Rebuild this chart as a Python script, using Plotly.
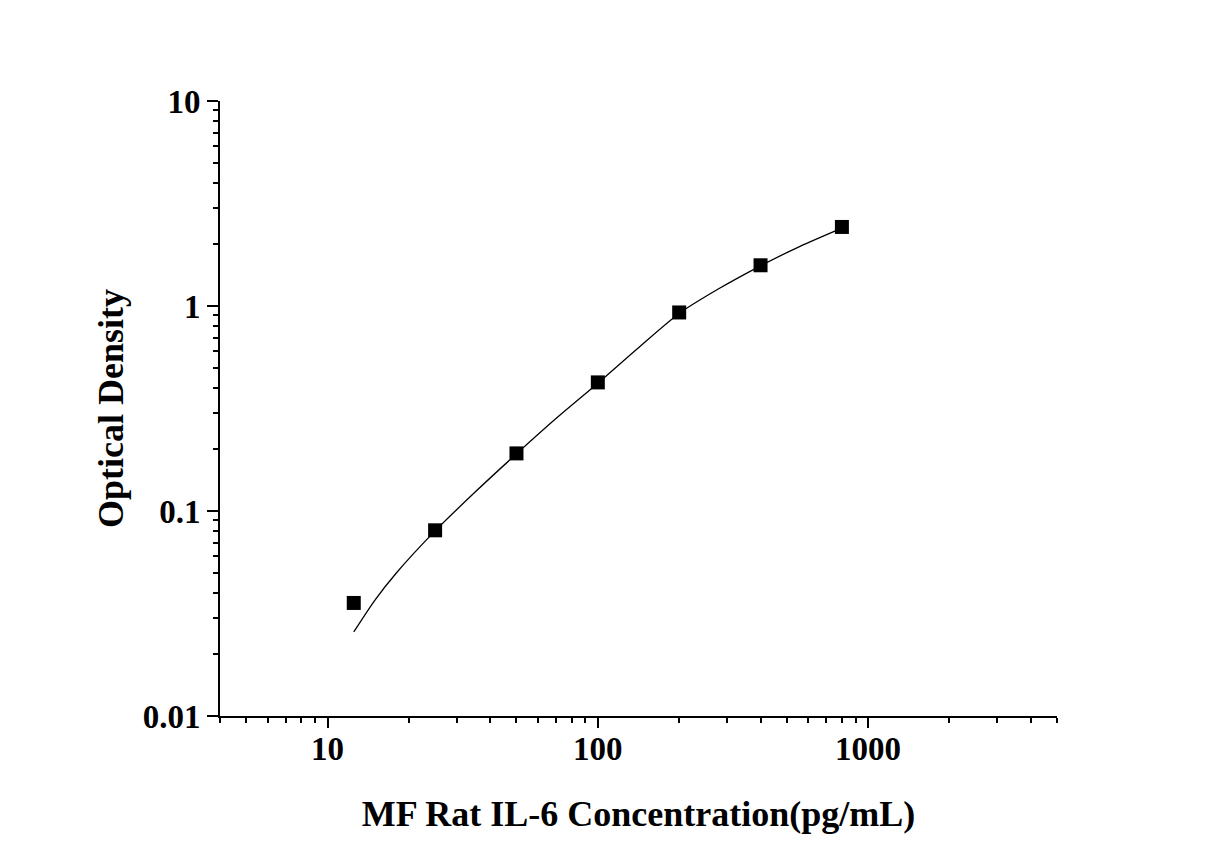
import plotly.graph_objects as go

# standard points (concentration, OD)
conc = [12.5, 25, 50, 100, 200, 400, 800]
od = [0.0356, 0.0805, 0.191, 0.424, 0.93, 1.58, 2.43]

# fitted curve
fit_x = [12.5, 15, 18, 25, 35, 50, 70, 100, 140, 200, 280, 400, 560, 800]
fit_y = [0.0257, 0.0369, 0.050, 0.080, 0.123, 0.19, 0.2825, 0.42, 0.619, 0.92, 1.213, 1.57, 1.955, 2.40]

x_ticks = [10, 100, 1000]
x_minor = [4, 5, 6, 7, 8, 9, 20, 30, 40, 50, 60, 70, 80, 90,
           200, 300, 400, 500, 600, 700, 800, 900, 2000, 3000, 4000, 5000]
y_ticks = [0.01, 0.1, 1, 10]
y_labels = ["0.01", "0.1", "1", "10"]
y_minor = [m * d for d in [0.01, 0.1, 1] for m in range(2, 10)]

font = "Liberation Serif"
tick_font = dict(family=font, size=33, color="black", weight="bold")
title_font = dict(family=font, size=36, color="black", weight="bold")

fig = go.Figure()
fig.add_trace(go.Scatter(x=fit_x, y=fit_y, mode="lines",
                         line=dict(color="black", width=1.3, shape="spline", smoothing=0.8),
                         showlegend=False, hoverinfo="skip"))
fig.add_trace(go.Scatter(x=conc, y=od, mode="markers",
                         marker=dict(symbol="square", size=14, color="black"), showlegend=False))

fig.update_layout(
    width=1227, height=858,
    margin=dict(l=212, r=178, t=93, b=150),
    plot_bgcolor="white", paper_bgcolor="white",
    font=dict(family=font, color="black", size=28),
    xaxis=dict(
        type="log", range=[0.602, 3.699],
        tickvals=x_ticks, ticktext=["10", "100", "1000"],
        ticks="outside", ticklen=10, tickwidth=2, tickcolor="black",
        showline=True, linecolor="black", linewidth=2, showgrid=False, zeroline=False,
        tickfont=tick_font, ticklabelstandoff=-8,
        minor=dict(tickvals=x_minor, ticks="outside", ticklen=5, tickwidth=2, tickcolor="black", showgrid=False),
        title=dict(text="MF Rat IL-6 Concentration(pg/mL)", font=title_font, standoff=35),
    ),
    yaxis=dict(
        type="log", range=[-2, 1],
        tickvals=y_ticks, ticktext=y_labels,
        ticks="outside", ticklen=11, tickwidth=2, tickcolor="black",
        showline=True, linecolor="black", linewidth=2, showgrid=False, zeroline=False,
        tickfont=tick_font,
        minor=dict(tickvals=y_minor, ticks="outside", ticklen=5, tickwidth=2, tickcolor="black", showgrid=False),
        title=dict(text="Optical Density", font=title_font, standoff=8),
    ),
)

fig.write_html("out.html")
